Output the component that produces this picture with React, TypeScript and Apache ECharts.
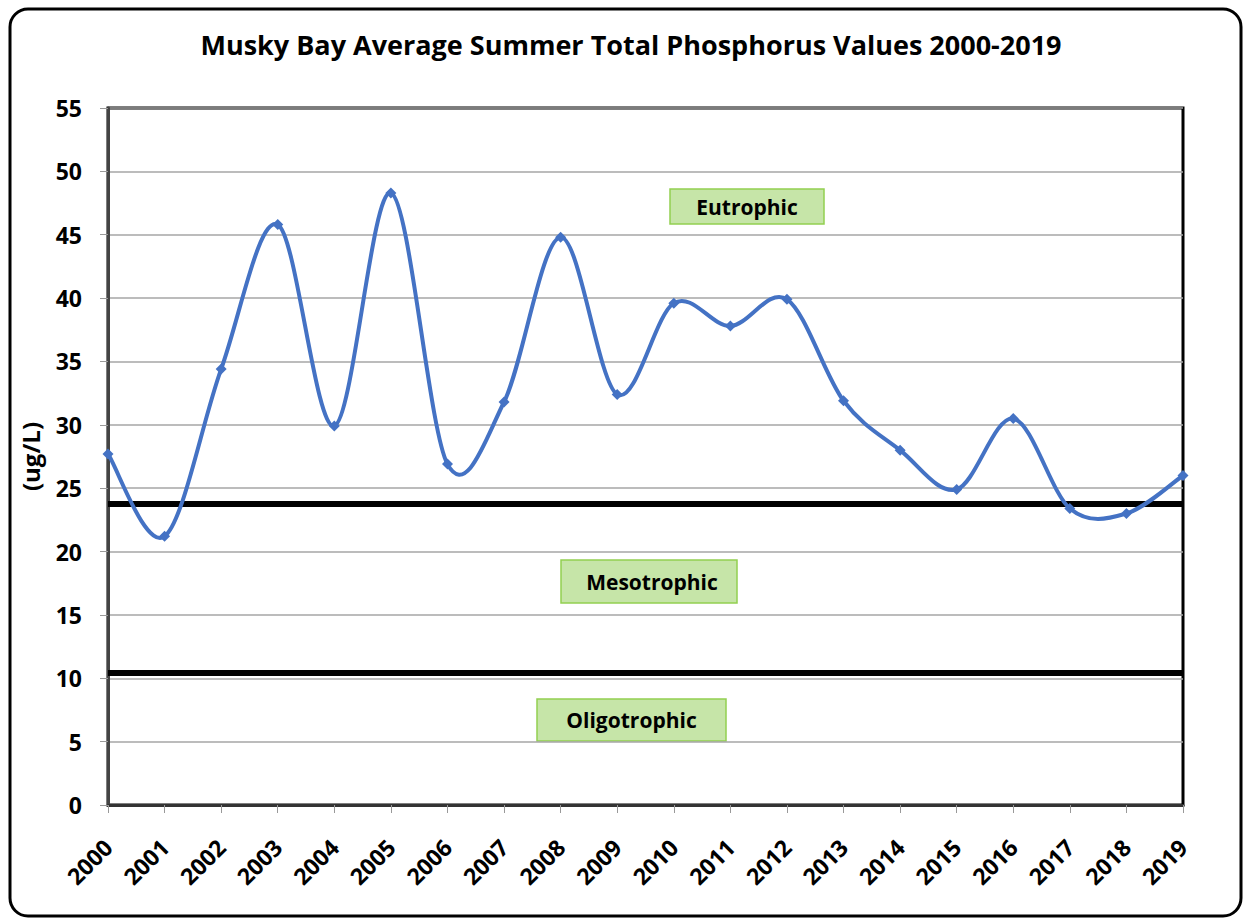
import React, { useEffect, useRef } from "react";
import * as echarts from "echarts";

const years = ["2000","2001","2002","2003","2004","2005","2006","2007","2008","2009","2010","2011","2012","2013","2014","2015","2016","2017","2018","2019"];
const phosphorus = [27.7, 21.2, 34.4, 45.8, 29.9, 48.3, 26.9, 31.8, 44.8, 32.4, 39.6, 37.8, 39.9, 31.9, 28.0, 24.9, 30.5, 23.4, 23.0, 26.0];
const thresholds = [23.8, 10.4];
const zoneLabels = ["Eutrophic", "Mesotrophic", "Oligotrophic"];
const yTicks = { min: 0, max: 55, interval: 5 };
const title = "Musky Bay Average Summer Total Phosphorus Values 2000-2019";
const yName = "(ug/L)";

const FONT = "'Open Sans', 'Noto Sans', sans-serif";
const BLUE = "#4472c4";

export default function App() {
  const ref = useRef<HTMLDivElement>(null);
  useEffect(() => {
    if (!ref.current) return;
    const chart = echarts.init(ref.current, null, { renderer: "svg" });
    const boxes = [
      { x: 670, y: 189, w: 154, h: 35 },
      { x: 561, y: 560, w: 176, h: 43 },
      { x: 537, y: 699, w: 189, h: 42 },
    ];
    const graphics: any[] = [
      {
        type: "rect",
        shape: { x: 10, y: 9, width: 1231, height: 907, r: 18 },
        style: { fill: "none", stroke: "#000", lineWidth: 3 },
        z: 100,
      },
    ];
    boxes.forEach((b, i) => {
      graphics.push({
        type: "group",
        x: b.x,
        y: b.y,
        z: 50,
        children: [
          {
            type: "rect",
            shape: { x: 0, y: 0, width: b.w, height: b.h },
            style: { fill: "#c6e5a8", stroke: "#92d050", lineWidth: 1.5 },
          },
          {
            type: "text",
            x: b.w / 2 + (i === 1 ? 3 : 0),
            y: b.h / 2,
            style: {
              text: zoneLabels[i],
              font: `bold 21px ${FONT}`,
              fill: "#000",
              align: "center",
              verticalAlign: "middle",
            },
          },
        ],
      });
    });
    const n = phosphorus.length;
    chart.setOption({
      animation: false,
      backgroundColor: "#fff",
      title: {
        text: title,
        left: 626,
        top: 26,
        textAlign: "center",
        textStyle: { fontFamily: FONT, fontWeight: "bold", fontSize: 27, color: "#000" },
      },
      grid: {
        left: 108,
        top: 108,
        right: 66,
        bottom: 117,
        show: true,
        borderColor: "#000",
        borderWidth: 3,
        backgroundColor: "transparent",
      },
      xAxis: {
        type: "category",
        data: years,
        boundaryGap: false,
        axisLine: { lineStyle: { color: "#333", width: 3 } },
        axisTick: { show: true, length: 8, lineStyle: { color: "#999" } },
        axisLabel: {
          rotate: 45,
          margin: 38,
          fontFamily: FONT,
          fontWeight: "bold",
          fontSize: 23,
          color: "#000",
          interval: 0,
        },
        splitLine: { show: false },
      },
      yAxis: {
        type: "value",
        min: yTicks.min,
        max: yTicks.max,
        interval: yTicks.interval,
        name: yName,
        nameLocation: "middle",
        nameGap: 66,
        nameRotate: 90,
        nameTextStyle: { fontFamily: FONT, fontWeight: "bold", fontSize: 24, color: "#000" },
        axisLine: { show: true, lineStyle: { color: "#444", width: 3 } },
        axisTick: { show: true, length: 8, lineStyle: { color: "#999" } },
        axisLabel: {
          margin: 26,
          fontFamily: FONT,
          fontWeight: "bold",
          fontSize: 23,
          color: "#000",
        },
        splitLine: { show: true, lineStyle: { color: "#a6a6a6", width: 1.5 } },
      },
      series: [
        {
          type: "custom",
          data: phosphorus.slice(0, n - 1).map((v, i) => [i, v]),
          z: 5,
          silent: true,
          renderItem: (params: any, api: any) => {
            const i = api.value(0) as number;
            const pt = (k: number) => {
              const kk = Math.max(0, Math.min(n - 1, k));
              return api.coord([kk, phosphorus[kk]]);
            };
            const p0 = pt(i - 1);
            const p1 = pt(i);
            const p2 = pt(i + 1);
            const p3 = pt(i + 2);
            return {
              type: "bezierCurve",
              shape: {
                x1: p1[0],
                y1: p1[1],
                cpx1: p1[0] + (p2[0] - p0[0]) / 6,
                cpy1: p1[1] + (p2[1] - p0[1]) / 6,
                cpx2: p2[0] - (p3[0] - p1[0]) / 6,
                cpy2: p2[1] - (p3[1] - p1[1]) / 6,
                x2: p2[0],
                y2: p2[1],
              },
              style: { fill: "none", stroke: BLUE, lineWidth: 4 },
            };
          },
        },
        {
          type: "line",
          data: phosphorus,
          symbol: "diamond",
          symbolSize: 11,
          itemStyle: { color: BLUE },
          lineStyle: { width: 0, opacity: 0 },
          z: 6,
          markLine: {
            silent: true,
            symbol: ["none", "none"],
            label: { show: false },
            lineStyle: { color: "#000", width: 6, type: "solid" },
            data: thresholds.map((t) => ({ yAxis: t })),
            z: 4,
          },
        },
      ],
      graphic: graphics,
    });
    return () => chart.dispose();
  }, []);
  return (
    <div
      ref={ref}
      style={{ position: "absolute", left: 0, top: 0, width: 1249, height: 922 }}
    />
  );
}
